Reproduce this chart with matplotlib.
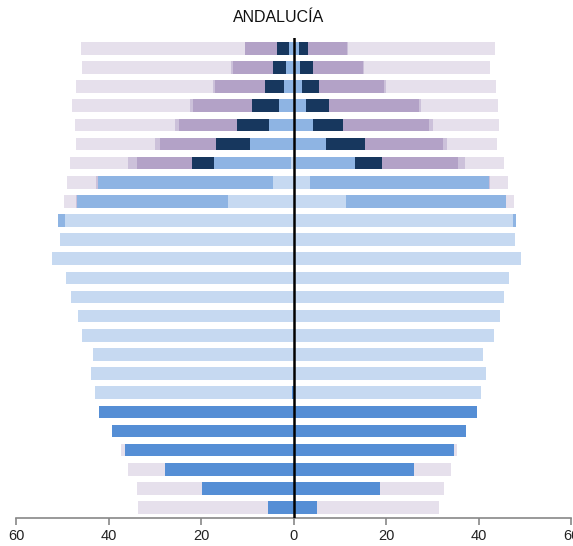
import numpy as np
import matplotlib
matplotlib.use("Agg")
import matplotlib.pyplot as plt

plt.rcParams['font.family'] = ['Liberation Sans', 'DejaVu Sans']

# rows from bottom (youngest) to top (oldest); values in thousands-ish units
n_rows = 25
categories = ['c1', 'c2', 'c3', 'c4', 'c5', 'c6', 'c7']
colors = ['#558ed5', '#c6d9f1', '#8eb4e3', '#17375e', '#b3a2c7', '#ccc1da', '#e6e0ec']

# left side (men)
left_c1 = [5.6, 19.7, 27.75, 36.5, 39.3, 42.0, 0.3] + [0] * 18
left_c2 = [0, 0, 0, 0, 0, 0, 42.6, 43.7, 43.3, 45.7, 46.7, 48.2, 49.2, 52.3, 50.4,
           49.5, 14.2, 4.53, 0.5, 0, 0, 0, 0, 0, 0]
left_c3 = [0] * 15 + [1.5, 32.7, 37.8, 16.7, 9.5, 5.3, 3.24, 2.07, 1.58, 1.08]
left_c4 = [0] * 18 + [4.68, 7.25, 6.84, 5.68, 4.19, 2.8, 2.44]
left_c5 = [0] * 18 + [11.9, 12.1, 12.6, 12.8, 10.64, 8.63, 6.9]
left_c6 = [0] * 16 + [0.2, 0.43, 1.94, 1.22, 0.86, 0.58, 0.43, 0.43, 0.2]
left_c7 = [28.05, 14.24, 8.07, 0.86] + [0] * 12 + [2.5, 6.26, 12.6, 17.0, 21.6, 25.5,
                                                   29.8, 32.2, 35.4]

# right side (women)
right_c1 = [5.05, 18.56, 25.9, 34.7, 37.3, 39.6] + [0] * 19
right_c2 = [0, 0, 0, 0, 0, 0, 40.4, 41.6, 40.9, 43.2, 44.6, 45.5, 46.5, 49.1, 47.9,
            47.3, 11.4, 3.6, 0.5, 0, 0, 0, 0, 0, 0]
right_c3 = [0] * 15 + [0.65, 34.5, 38.6, 12.8, 7.0, 4.1, 2.68, 1.81, 1.44, 1.08]
right_c4 = [0] * 18 + [5.9, 8.49, 6.62, 5.04, 3.6, 2.66, 1.94]
right_c5 = [0] * 18 + [16.3, 16.8, 18.6, 19.4, 14.2, 10.86, 8.5]
right_c6 = [0] * 17 + [0.2, 1.5, 0.86, 0.79, 0.43, 0.43, 0.29, 0.2]
right_c7 = [26.4, 13.96, 8.07, 0.57] + [0] * 12 + [1.7, 3.9, 8.4, 10.9, 14.3, 16.6,
                                                   23.6, 27.2, 31.7]

left = [left_c1, left_c2, left_c3, left_c4, left_c5, left_c6, left_c7]
right = [right_c1, right_c2, right_c3, right_c4, right_c5, right_c6, right_c7]

fig = plt.figure(figsize=(5.73, 5.46), dpi=100)
ax = fig.add_axes([16 / 573, 28.3 / 546, (571.3 - 16) / 573, (508 - 28.3) / 546])

y = np.arange(n_rows)
bar_h = 0.66

cum_l = np.zeros(n_rows)
cum_r = np.zeros(n_rows)
for vals_l, vals_r, col in zip(left, right, colors):
    vl = np.array(vals_l, dtype=float)
    vr = np.array(vals_r, dtype=float)
    ax.barh(y, -vl, left=-cum_l, height=bar_h, color=col, edgecolor='none')
    ax.barh(y, vr, left=cum_r, height=bar_h, color=col, edgecolor='none')
    cum_l += vl
    cum_r += vr

ax.axvline(0, color='black', lw=1.8, zorder=5)

ax.set_xlim(-60, 60)
ax.set_ylim(-0.533, 24.54)
ax.set_xticks([-60, -40, -20, 0, 20, 40, 60])
ax.set_xticklabels(['60', '40', '20', '0', '20', '40', '60'], fontsize=10.5, color='#222222')
ax.set_yticks([])
for s in ['top', 'right', 'left']:
    ax.spines[s].set_visible(False)
ax.spines['bottom'].set_color('#888888')
ax.spines['bottom'].set_linewidth(1.2)
ax.tick_params(axis='x', colors='#888888', length=5, width=1.2, labelcolor='#222222', pad=3)

fig.text(279 / 573, 1 - 18 / 546, 'ANDALUCÍA', ha='center', va='center', fontsize=11.5, color='#111111')

fig.savefig('out.png', dpi=100)
